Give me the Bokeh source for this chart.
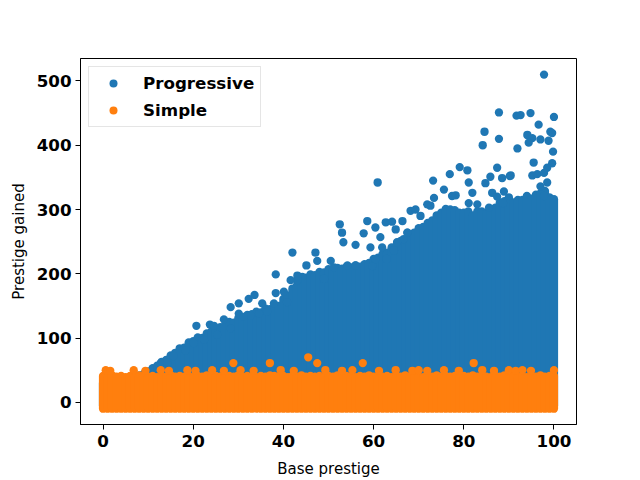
from bokeh.plotting import figure
from bokeh.models import ColumnDataSource, FixedTicker, Legend, LegendItem
from bokeh.embed import file_html
from bokeh.resources import INLINE

BLUE = "#1f77b4"
ORANGE = "#ff7f0e"

# ---- data ----
# Dense (fully overlapped) part of the "Progressive" cloud: per base-prestige column, top of the solid band
prog_band_x = list(range(0, 101))
prog_band_top = [30, 32, 30, 35, 34, 38, 36, 40, 42, 44,
                 48, 53, 57, 63, 66, 73, 77, 84, 85, 93,
                 95, 101, 100, 107, 110, 111, 117, 119, 125, 124,
                 131, 130, 136, 137, 141, 140, 146, 145, 151, 150,
                 161, 166, 177, 182, 193, 194, 199, 198, 203, 202,
                 207, 206, 209, 208, 211, 210, 213, 211, 215, 217,
                 223, 225, 231, 233, 241, 243, 251, 252, 261, 264,
                 271, 273, 279, 283, 291, 295, 301, 300, 299, 295,
                 295, 297, 291, 297, 297, 295, 301, 303, 311, 313,
                 319, 311, 315, 315, 321, 317, 323, 325, 329, 319, 316]
prog_band_bottom = [-5] * 101

# Scattered "Progressive" points above the solid band
prog_x = [97.8, 87.8, 91.7, 92.6, 94.8, 100.0, 96.6, 84.6, 87.8, 84.2, 91.9, 94.1, 95.2,
          99.2, 99.6, 97.0, 98.8, 94.4, 99.8, 95.5, 99.6, 98.5, 87.4, 79.1, 80.8, 76.9,
          73.2, 85.9, 84.8, 90.4, 88.5, 95.2, 96.3, 81.1, 75.6, 81.9, 78.2, 77.4, 86.3,
          88.9, 87.4, 97.8, 98.5, 97.0, 97.8, 88.7, 81.1, 83.0, 85.6, 90.2, 72.6,
          60.9, 52.5, 53.0, 53.3, 56.0, 58.6, 57.8, 60.4, 62.7, 64.1, 64.9, 61.5, 61.9,
          59.3, 66.4, 67.5, 68.2, 69.3, 71.9, 73.4, 70.4, 66.7, 42.0, 47.1, 47.5, 45.1,
          50.5, 51.2, 54.2, 56.0, 59.7, 60.4, 62.9, 64.5, 44.2, 49.0, 43.1, 65.2, 67.5,
          41.6, 38.3, 38.3, 40.8, 20.7, 23.7, 24.6, 26.8, 28.3, 30.1, 32.3, 33.6, 35.3,
          30.1, 32.7, 20.1, 22.4, 18.3, 15.6, 12.8, 14.2, 25.3, 28.3, 31.2, 34.6, 36.4,
          37.9, 40.1, 43.1]
prog_y = [510, 451, 446, 447, 450, 444, 432, 421, 410, 400, 395, 416, 411,
          421, 419, 409, 407, 404, 390, 373, 372, 365, 365, 366, 361, 355,
          345, 351, 341, 353, 349, 353, 355, 342, 331, 326, 322, 321, 326,
          328, 320, 357, 342, 336, 321, 310, 310, 308, 303, 352, 306,
          342, 277, 264, 249, 245, 282, 263, 272, 280, 281, 269, 257, 241,
          241, 282, 264, 298, 300, 308, 318, 290, 254, 233, 233, 220, 213,
          220, 210, 213, 213, 212, 223, 223, 236, 195, 192, 190, 249, 264,
          190, 199, 170, 156, 119, 121, 119, 129, 148, 154, 161, 167, 154,
          138, 135, 92, 97, 81, 72, 61, 62, 105, 115, 133, 138, 141,
          154, 172, 197]

# Dense part of the "Simple" cloud: per column, bottom and top of the solid band
simple_band_x = list(range(0, 101))
simple_band_bottom = [-10] * 101
simple_band_top = [41, 40, 42, 40, 41, 39, 41, 40, 42, 41,
                   40, 41, 39, 41, 40, 42, 40, 41, 40, 41,
                   39, 41, 40, 42, 40, 41, 40, 39, 41, 40,
                   42, 40, 41, 40, 39, 41, 40, 42, 41, 40,
                   41, 39, 41, 40, 42, 40, 41, 40, 41, 39,
                   41, 40, 42, 40, 41, 40, 39, 41, 40, 42,
                   40, 41, 40, 41, 39, 41, 40, 42, 40, 41,
                   40, 39, 41, 40, 42, 40, 41, 40, 41, 39,
                   41, 40, 42, 40, 41, 40, 39, 41, 40, 42,
                   40, 41, 40, 41, 39, 41, 40, 42, 40, 41, 41]

# Scattered "Simple" points above the band
simple_x = [0.6, 1.6, 6.8, 9.4, 12.8, 14.6, 18.7, 20.5, 24.2, 26.8, 30.5, 33.4, 39.4,
            42.3, 49.3, 53.0, 55.3, 61.2, 64.9, 68.6, 70.0, 71.9, 75.6, 78.9, 84.1,
            86.7, 90.0, 91.5, 93.0, 94.9, 100.0,
            28.9, 37.0, 45.5, 47.5, 57.6, 82.2]
simple_y = [50, 49, 50, 49, 50, 49, 50, 49, 50, 49, 50, 49, 50,
            49, 50, 49, 50, 49, 50, 49, 50, 49, 50, 49, 50,
            49, 50, 49, 50, 49, 50,
            61, 61, 70, 61, 61, 61]

x_ticks = [0, 20, 40, 60, 80, 100]
y_ticks = [0, 100, 200, 300, 400, 500]
x_label = "Base prestige"
y_label = "Prestige gained"
series_names = ["Progressive", "Simple"]

# ---- figure ----
p = figure(width=640, height=480, x_range=(-5, 105), y_range=(-34.6, 535),
           output_backend="svg", toolbar_location=None,
           min_border_left=80, min_border_right=64, min_border_top=58, min_border_bottom=53)
p.xgrid.visible = False
p.ygrid.visible = False
p.outline_line_color = "black"
p.outline_line_width = 1
p.background_fill_color = "white"
p.border_fill_color = "white"

MS = 8.3  # marker diameter in px

src_pb = ColumnDataSource(dict(x=prog_band_x, y0=prog_band_bottom, y1=prog_band_top))
p.segment(x0="x", y0="y0", x1="x", y1="y1", source=src_pb, line_color=BLUE,
          line_width=MS, line_cap="round")
r_prog = p.scatter(prog_x, prog_y, size=MS, marker="circle", fill_color=BLUE, line_color=None)

src_sb = ColumnDataSource(dict(x=simple_band_x, y0=simple_band_bottom, y1=simple_band_top))
p.segment(x0="x", y0="y0", x1="x", y1="y1", source=src_sb, line_color=ORANGE,
          line_width=MS, line_cap="round")
r_simple = p.scatter(simple_x, simple_y, size=MS, marker="circle", fill_color=ORANGE, line_color=None)

for ax in (p.xaxis[0], p.yaxis[0]):
    ax.axis_line_color = "black"
    ax.major_tick_line_color = "black"
    ax.major_tick_out = 5
    ax.major_tick_in = 0
    ax.minor_tick_line_color = None
    ax.major_label_text_font = "DejaVu Sans"
    ax.major_label_text_font_style = "bold"
    ax.major_label_text_font_size = "16.7px"
    ax.major_label_text_color = "black"
    ax.axis_label_text_font = "DejaVu Sans"
    ax.axis_label_text_font_style = "normal"
    ax.axis_label_text_font_size = "15px"
    ax.axis_label_text_color = "black"

p.xaxis[0].major_label_standoff = 5
p.yaxis[0].major_label_standoff = 4
p.xaxis[0].axis_label_standoff = 10
p.yaxis[0].axis_label_standoff = 6

p.xaxis[0].ticker = FixedTicker(ticks=x_ticks)
p.yaxis[0].ticker = FixedTicker(ticks=y_ticks)
p.xaxis[0].axis_label = x_label
p.yaxis[0].axis_label = y_label

legend = Legend(items=[LegendItem(label=series_names[0], renderers=[r_prog]),
                       LegendItem(label=series_names[1], renderers=[r_simple])],
                location="top_left")
legend.margin = 8
legend.padding = 6
legend.spacing = 7
legend.glyph_width = 36
legend.glyph_height = 20
legend.label_standoff = 12
legend.label_text_font = "DejaVu Sans"
legend.label_text_font_style = "bold"
legend.label_text_font_size = "16.7px"
legend.label_text_color = "black"
legend.border_line_color = "#cccccc"
legend.border_line_width = 1
legend.background_fill_alpha = 0.8
p.add_layout(legend, "center")

open("out.html", "w").write(file_html(p, INLINE))
